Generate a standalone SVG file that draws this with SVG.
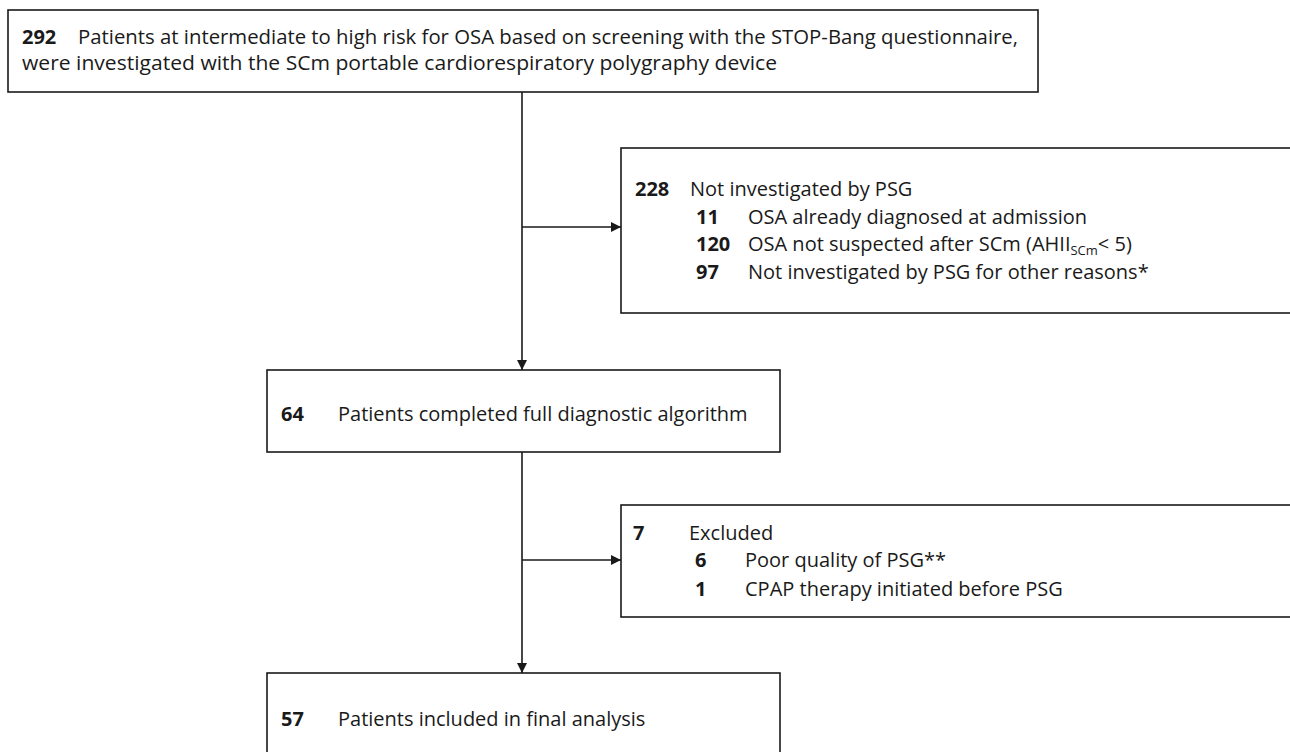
<svg xmlns="http://www.w3.org/2000/svg" width="1290" height="752" viewBox="0 0 1290 752">
  <style>
    .box { fill: #ffffff; stroke: #1a1a1a; stroke-width: 1.6; }
    .t { font-family: "Open Sans", "Noto Sans", "Liberation Sans", sans-serif; font-size: 20px; fill: #1a1a1a; }
    .n { font-weight: 700; }
    .sub { font-size: 13px; }
    .conn { stroke: #1a1a1a; stroke-width: 1.6; fill: none; }
  </style>
  <defs>
    <marker id="arr" viewBox="0 0 10 10" refX="10" refY="5" markerWidth="10" markerHeight="10" markerUnits="userSpaceOnUse" orient="auto">
      <path d="M0,0 L10,5 L0,10 Z" fill="#1a1a1a"/>
    </marker>
  </defs>
  <rect width="1290" height="752" fill="#ffffff"/>

  <g id="connectors">
    <line class="conn" x1="522" y1="92" x2="522" y2="370" marker-end="url(#arr)"/>
    <line class="conn" x1="522" y1="227" x2="621" y2="227" marker-end="url(#arr)"/>
    <line class="conn" x1="522" y1="452" x2="522" y2="673" marker-end="url(#arr)"/>
    <line class="conn" x1="522" y1="560" x2="621" y2="560" marker-end="url(#arr)"/>
  </g>

  <g id="node-292">
    <rect class="box" x="8" y="10" width="1030" height="82"/>
    <text class="t n" x="22" y="44">292</text>
    <text class="t" x="78" y="44" textLength="940" lengthAdjust="spacingAndGlyphs">Patients at intermediate to high risk for OSA based on screening with the STOP-Bang questionnaire,</text>
    <text class="t" x="22" y="70" textLength="755" lengthAdjust="spacingAndGlyphs">were investigated with the SCm portable cardiorespiratory polygraphy device</text>
  </g>

  <g id="node-228">
    <rect class="box" x="621" y="148" width="680" height="165"/>
    <text class="t n" x="635" y="196">228</text>
    <text class="t" x="690" y="196">Not investigated by PSG</text>
    <text class="t n" x="696" y="224">11</text>
    <text class="t" x="748" y="224">OSA already diagnosed at admission</text>
    <text class="t n" x="696" y="251">120</text>
    <text class="t" x="748" y="251">OSA not suspected after SCm (AHII<tspan class="sub" dy="4">SCm</tspan><tspan dy="-4">&lt; 5)</tspan></text>
    <text class="t n" x="696" y="279">97</text>
    <text class="t" x="748" y="279">Not investigated by PSG for other reasons*</text>
  </g>

  <g id="node-64">
    <rect class="box" x="267" y="370" width="513" height="82"/>
    <text class="t n" x="281" y="421">64</text>
    <text class="t" x="338" y="421">Patients completed full diagnostic algorithm</text>
  </g>

  <g id="node-7">
    <rect class="box" x="621" y="505" width="680" height="112"/>
    <text class="t n" x="633" y="540">7</text>
    <text class="t" x="689" y="540">Excluded</text>
    <text class="t n" x="695" y="567">6</text>
    <text class="t" x="745" y="567">Poor quality of PSG**</text>
    <text class="t n" x="695" y="596">1</text>
    <text class="t" x="745" y="596">CPAP therapy initiated before PSG</text>
  </g>

  <g id="node-57">
    <rect class="box" x="267" y="673" width="513" height="90"/>
    <text class="t n" x="281" y="726">57</text>
    <text class="t" x="338" y="726">Patients included in final analysis</text>
  </g>
</svg>
